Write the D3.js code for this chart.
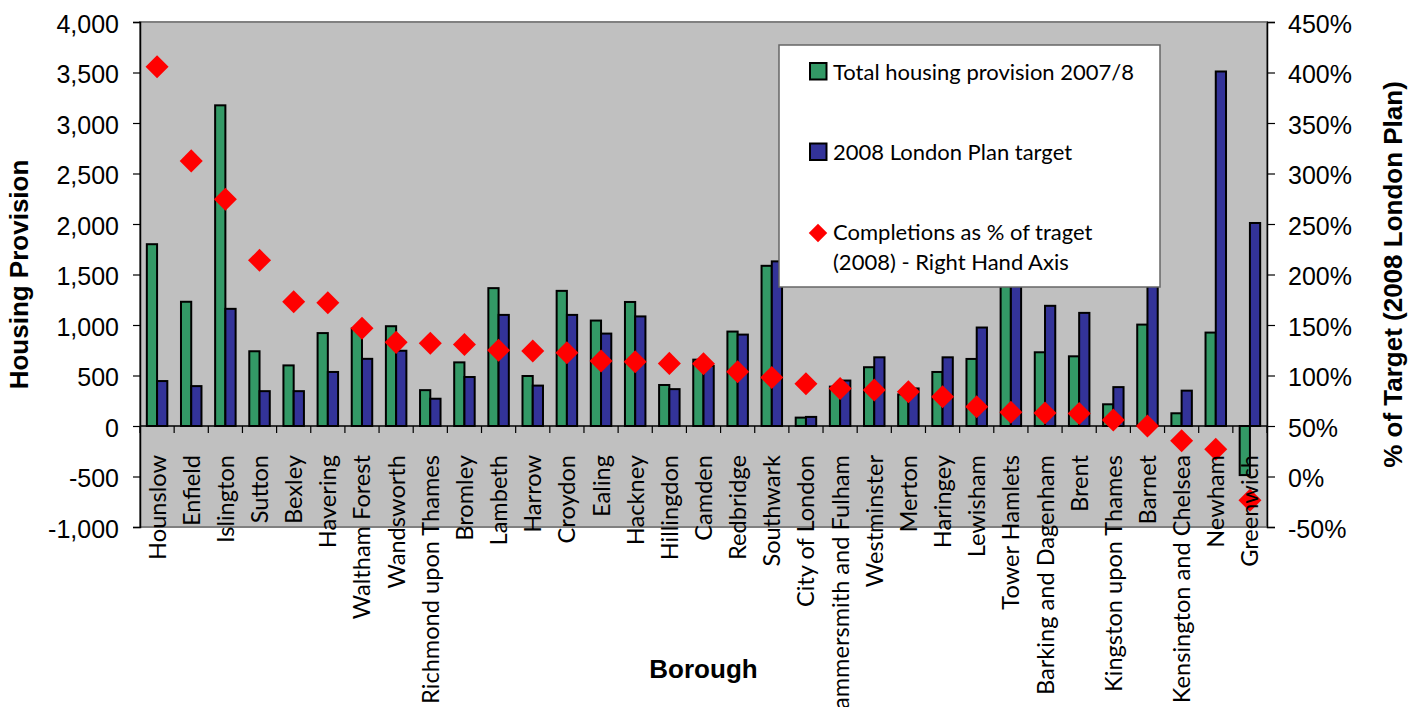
<!DOCTYPE html>
<html>
<head>
<meta charset="utf-8">
<script src="https://cdn.jsdelivr.net/npm/d3@7"></script>
<style>
  html, body { margin: 0; padding: 0; background: #ffffff; }
  svg { display: block; }
</style>
</head>
<body>
<svg id="chart" width="1422" height="707"></svg>
<script>
const boroughs = ["Hounslow","Enfield","Islington","Sutton","Bexley","Havering","Waltham Forest","Wandsworth","Richmond upon Thames","Bromley","Lambeth","Harrow","Croydon","Ealing","Hackney","Hillingdon","Camden","Redbridge","Southwark","City of London","Hammersmith and Fulham","Westminster","Merton","Haringey","Lewisham","Tower Hamlets","Barking and Dagenham","Brent","Kingston upon Thames","Barnet","Kensington and Chelsea","Newham","Greenwich"];
const provision = [1800,1230,3175,740,600,920,965,988,355,630,1365,495,1338,1044,1228,406,657,935,1586,83,390,582,313,535,664,2006,730,690,215,1004,126,925,-486];
const target = [445,395,1160,345,345,535,665,745,270,485,1100,400,1100,915,1085,365,595,905,1630,90,450,680,372,680,975,3150,1190,1120,385,2055,350,3510,2010];
const pctOfTarget = [405.6,312.5,274.5,214,173,172,146.7,132.8,132,130.8,124.9,124.2,122.6,114.3,113.7,112,111.7,103.8,98,91.9,87.2,85.6,84,79,69,63.7,62.8,62.4,56,50,35.5,27,-23.5];
const leftTicks = [-1000,-500,0,500,1000,1500,2000,2500,3000,3500,4000];
const rightTicks = [-50,0,50,100,150,200,250,300,350,400,450];
const seriesNames = ["Total housing provision 2007/8","2008 London Plan target"];
const markerName = ["Completions as % of traget","(2008) - Right Hand Axis"];

const svg = d3.select("#chart");
const L = 140, R = 1267, T = 22, B = 527;
const green = "#339966", blue = "#333399", red = "#FF0000";

const x = d3.scaleBand().domain(boroughs).range([L, R]).paddingInner(0).paddingOuter(0);
const y = d3.scaleLinear().domain([-1000, 4000]).range([B, T]);
const yR = d3.scaleLinear().domain([-50, 450]).range([B, T]);
const bw = x.bandwidth() * 0.3;

// plot area
svg.append("rect").attr("x", L).attr("y", T).attr("width", R - L).attr("height", B - T)
  .attr("fill", "#C0C0C0").attr("stroke", "#808080").attr("stroke-width", 2);

// bars
const g = svg.append("g");
g.selectAll("rect.prov").data(boroughs).join("rect")
  .attr("x", d => x(d) + x.bandwidth() / 2 - bw)
  .attr("y", (d, i) => y(Math.max(0, provision[i])))
  .attr("width", bw)
  .attr("height", (d, i) => Math.abs(y(provision[i]) - y(0)))
  .attr("fill", green).attr("stroke", "#000").attr("stroke-width", 2);
g.selectAll("rect.targ").data(boroughs).join("rect")
  .attr("x", d => x(d) + x.bandwidth() / 2)
  .attr("y", (d, i) => y(Math.max(0, target[i])))
  .attr("width", bw)
  .attr("height", (d, i) => Math.abs(y(target[i]) - y(0)))
  .attr("fill", blue).attr("stroke", "#000").attr("stroke-width", 2);

// x axis line at zero with ticks at band boundaries
svg.append("line").attr("x1", L).attr("x2", R).attr("y1", y(0)).attr("y2", y(0))
  .attr("stroke", "#000").attr("stroke-width", 1.5);
const bounds = boroughs.map(d => x(d)).concat([R]);
svg.selectAll("line.xt").data(bounds).join("line")
  .attr("x1", d => d).attr("x2", d => d).attr("y1", y(0)).attr("y2", y(0) + 7)
  .attr("stroke", "#000").attr("stroke-width", 1.2);

// diamonds
const diamond = d3.symbol().type(d3.symbolSquare).size(265);
svg.selectAll("path.pt").data(boroughs).join("path")
  .attr("d", diamond)
  .attr("transform", (d, i) => `translate(${x(d) + x.bandwidth() / 2},${yR(pctOfTarget[i])}) rotate(45)`)
  .attr("fill", red);

// left axis
const fmt = v => d3.format(",")(v).replace("\u2212", "-");
const la = svg.append("g").attr("transform", `translate(${L},0)`)
  .call(d3.axisLeft(y).tickValues(leftTicks).tickFormat(fmt).tickSize(7).tickPadding(14));
la.select(".domain").attr("stroke", "#000").attr("stroke-width", 1.5);
la.selectAll(".tick line").attr("stroke", "#000").attr("stroke-width", 1.2);
la.selectAll(".tick text").attr("font-family", "Liberation Sans, Arial, sans-serif")
  .attr("font-size", 25).attr("fill", "#000").attr("dy", "0.4em");

// right axis
const ra = svg.append("g").attr("transform", `translate(${R},0)`)
  .call(d3.axisRight(yR).tickValues(rightTicks).tickFormat(v => String(v).replace("\u2212", "-") + "%").tickSize(8).tickPadding(13));
ra.select(".domain").attr("stroke", "#000").attr("stroke-width", 1.5);
ra.selectAll(".tick line").attr("stroke", "#000").attr("stroke-width", 1.2);
ra.selectAll(".tick text").attr("font-family", "Liberation Sans, Arial, sans-serif")
  .attr("font-size", 25).attr("fill", "#000").attr("dy", "0.4em");

// category labels
svg.selectAll("text.cat").data(boroughs).join("text")
  .attr("transform", d => `translate(${x(d) + x.bandwidth() / 2},455) rotate(-90)`)
  .attr("dy", "0.36em")
  .attr("text-anchor", "end")
  .attr("font-family", "Lato, sans-serif")
  .attr("font-size", 23.6)
  .attr("fill", "#000")
  .text(d => d);

// axis titles
svg.append("text").attr("x", (L + R) / 2).attr("y", 678).attr("text-anchor", "middle")
  .attr("font-family", "Liberation Sans, Arial, sans-serif").attr("font-weight", "bold")
  .attr("font-size", 26).text("Borough");
svg.append("text").attr("transform", `translate(28,${(T + B) / 2}) rotate(-90)`).attr("text-anchor", "middle")
  .attr("font-family", "Liberation Sans, Arial, sans-serif").attr("font-weight", "bold")
  .attr("font-size", 26).text("Housing Provision");
svg.append("text").attr("transform", `translate(1402,${(T + B) / 2}) rotate(-90)`).attr("text-anchor", "middle")
  .attr("font-family", "Liberation Sans, Arial, sans-serif").attr("font-weight", "bold")
  .attr("font-size", 26).text("% of Target (2008 London Plan)");

// legend
const lg = svg.append("g");
lg.append("rect").attr("x", 779).attr("y", 45).attr("width", 381).attr("height", 242)
  .attr("fill", "#fff").attr("stroke", "#666").attr("stroke-width", 1.5);
const lf = { "font-family": "Lato, sans-serif", "font-size": 22 };
lg.append("rect").attr("x", 810).attr("y", 63).attr("width", 16.5).attr("height", 16.5)
  .attr("fill", green).attr("stroke", "#000").attr("stroke-width", 2);
lg.append("rect").attr("x", 810).attr("y", 143.5).attr("width", 16.5).attr("height", 16.5)
  .attr("fill", blue).attr("stroke", "#000").attr("stroke-width", 2);
lg.append("path").attr("d", d3.symbol().type(d3.symbolSquare).size(170))
  .attr("transform", "translate(818,233) rotate(45)").attr("fill", red);
const lt = [[seriesNames[0], 80], [seriesNames[1], 160], [markerName[0], 240], [markerName[1], 270]];
lg.selectAll("text").data(lt).join("text")
  .attr("x", 833).attr("y", d => d[1])
  .attr("font-family", lf["font-family"]).attr("font-size", lf["font-size"]).attr("fill", "#000")
  .text(d => d[0]);
</script>
</body>
</html>
